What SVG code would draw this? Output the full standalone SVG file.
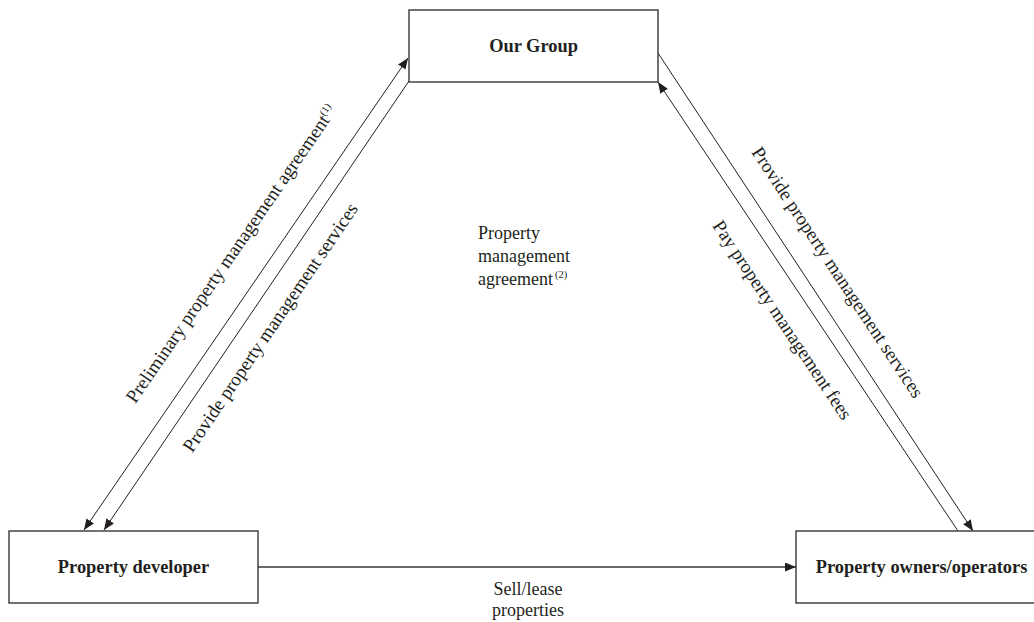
<svg xmlns="http://www.w3.org/2000/svg" width="1034" height="622" viewBox="0 0 1034 622">
  <defs>
    <marker id="arrow" markerUnits="userSpaceOnUse" markerWidth="12" markerHeight="10" refX="11" refY="4.5" orient="auto-start-reverse">
      <path d="M0,0 L11,4.5 L0,9 z" fill="#231f20"/>
    </marker>
    <style>
      .box { fill: #ffffff; stroke: #3a3637; stroke-width: 1.4; }
      .name { font-family: "Liberation Serif", "Times New Roman", serif; font-weight: bold; font-size: 18.4px; fill: #231f20; text-anchor: middle; }
      .lbl { font-family: "Liberation Serif", "Times New Roman", serif; font-size: 18px; fill: #231f20; }
      .slant { font-size: 19px; text-anchor: middle; }
      .sup { font-size: 10.5px; }
      .link { fill: none; stroke: #231f20; stroke-width: 1; }
      .flow { fill: none; stroke: #3a3637; stroke-width: 1.4; }
    </style>
  </defs>

  <rect width="1034" height="622" fill="#ffffff"/>

  <!-- connectors -->
  <g id="connectors">
    <line class="link" x1="84" y1="530" x2="408" y2="58" marker-start="url(#arrow)" marker-end="url(#arrow)"/>
    <line class="link" x1="409" y1="81" x2="104" y2="530" marker-end="url(#arrow)"/>
    <line class="link" x1="958" y1="531" x2="658" y2="82" marker-end="url(#arrow)"/>
    <line class="link" x1="658" y1="53" x2="973" y2="531" marker-end="url(#arrow)"/>
    <line class="flow" x1="258" y1="567" x2="796" y2="567" marker-end="url(#arrow)"/>
  </g>

  <!-- connector labels, each placed along its own line -->
  <g id="labels">
    <text class="lbl slant" transform="translate(84 530) rotate(-55.5)" x="311" y="-29">Preliminary property management agreement<tspan class="sup" dy="-7">(1)</tspan></text>
    <text class="lbl slant" transform="translate(104 530) rotate(-55.8)" x="261" y="30">Provide property management services</text>
    <text class="lbl slant" transform="translate(658 53) rotate(56.6)" x="282" y="-23">Provide property management services</text>
    <text class="lbl slant" transform="translate(658 82) rotate(56.25)" x="267" y="35">Pay property management fees</text>
    <text class="lbl" x="478" y="239">Property</text>
    <text class="lbl" x="478" y="262">management</text>
    <text class="lbl" x="478" y="285">agreement<tspan class="sup" dx="2" dy="-7">(2)</tspan></text>
    <text class="lbl" text-anchor="middle" x="528" y="595">Sell/lease</text>
    <text class="lbl" text-anchor="middle" x="528" y="616">properties</text>
  </g>

  <!-- parties -->
  <g id="our-group">
    <rect class="box" x="409" y="10" width="249" height="72"/>
    <text class="name" x="533.5" y="52">Our Group</text>
  </g>
  <g id="property-developer">
    <rect class="box" x="9" y="531" width="249" height="72"/>
    <text class="name" x="133.5" y="573">Property developer</text>
  </g>
  <g id="property-owners">
    <rect class="box" x="796" y="531" width="250" height="72"/>
    <text class="name" x="921.5" y="573">Property owners/operators</text>
  </g>
</svg>
